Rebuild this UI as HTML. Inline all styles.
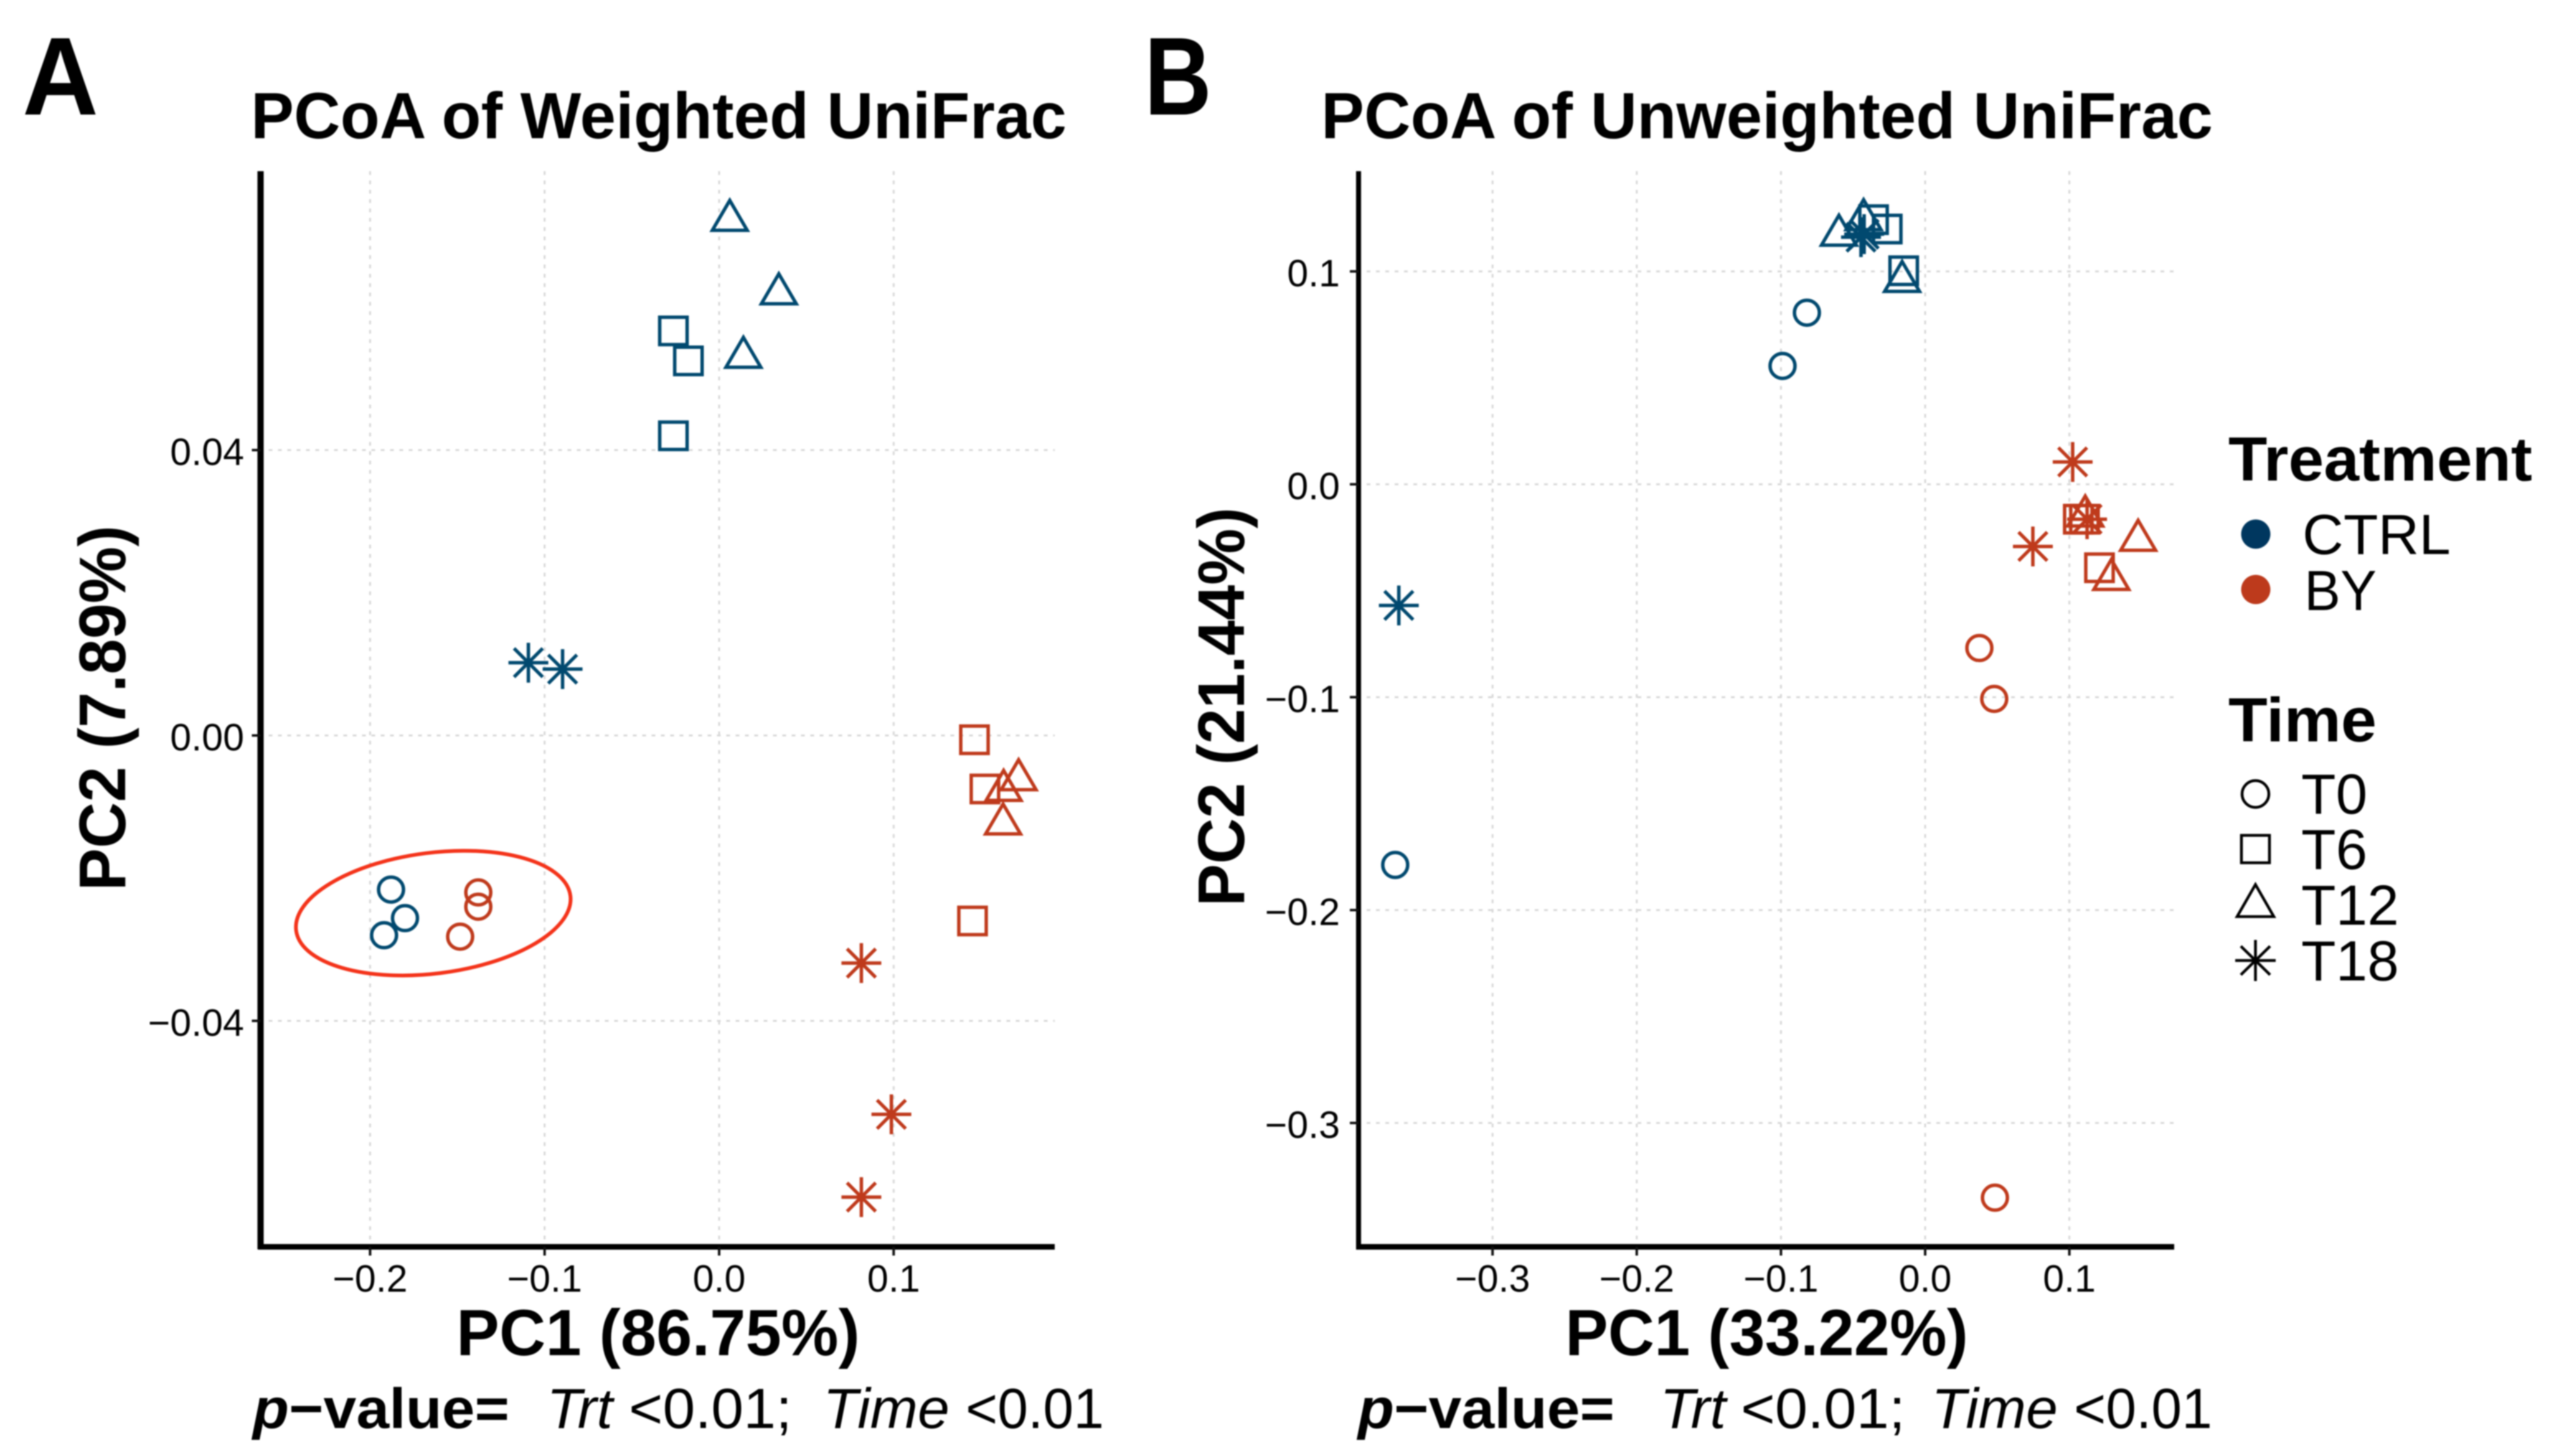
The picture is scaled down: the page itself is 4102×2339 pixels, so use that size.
<!DOCTYPE html>
<html lang="en">
<head>
<meta charset="utf-8">
<title>PCoA of Weighted and Unweighted UniFrac</title>
<style>
html,body{margin:0;padding:0;background:#fff;}
svg{display:block;filter:blur(1px);}
text{font-family:"Liberation Sans",Arial,sans-serif;fill:#000;}
.b{font-weight:700;}
</style>
</head>
<body>
<svg id="figure" xmlns="http://www.w3.org/2000/svg" width="4102" height="2339" viewBox="0 0 4102 2339">
  <rect x="0" y="0" width="4102" height="2339" fill="#fff"/>

  <text class="b" x="36" y="184" font-size="178" textLength="122" lengthAdjust="spacingAndGlyphs">A</text>
  <text class="b" x="1838" y="184" font-size="178" textLength="108" lengthAdjust="spacingAndGlyphs">B</text>

  <g id="panelA"></g>
  <g id="panelB"></g>

  <text class="b" x="403" y="222" font-size="105" textLength="1310" lengthAdjust="spacingAndGlyphs">PCoA of Weighted UniFrac</text>
  <text class="b" x="2122" y="222" font-size="105" textLength="1432" lengthAdjust="spacingAndGlyphs">PCoA of Unweighted UniFrac</text>

  <text class="b" x="733" y="2177" font-size="105" textLength="648" lengthAdjust="spacingAndGlyphs">PC1 (86.75%)</text>
  <text class="b" x="2514" y="2177" font-size="105" textLength="647" lengthAdjust="spacingAndGlyphs">PC1 (33.22%)</text>

  <text class="b" transform="translate(201,1431) rotate(-90)" font-size="106" textLength="587" lengthAdjust="spacingAndGlyphs">PC2 (7.89%)</text>
  <text class="b" transform="translate(1998,1456) rotate(-90)" font-size="106" textLength="641" lengthAdjust="spacingAndGlyphs">PC2 (21.44%)</text>

  <g font-size="91">
    <text class="b" x="406" y="2294" textLength="412" lengthAdjust="spacingAndGlyphs"><tspan font-style="italic">p</tspan>−value=</text>
    <text font-style="italic" x="878" y="2294" textLength="106" lengthAdjust="spacingAndGlyphs">Trt</text>
    <text x="1010" y="2294" textLength="262" lengthAdjust="spacingAndGlyphs">&lt;0.01;</text>
    <text font-style="italic" x="1322" y="2294" textLength="203" lengthAdjust="spacingAndGlyphs">Time</text>
    <text x="1551" y="2294" textLength="222" lengthAdjust="spacingAndGlyphs">&lt;0.01</text>
  </g>
  <g font-size="91">
    <text class="b" x="2181" y="2294" textLength="412" lengthAdjust="spacingAndGlyphs"><tspan font-style="italic">p</tspan>−value=</text>
    <text font-style="italic" x="2666" y="2294" textLength="106" lengthAdjust="spacingAndGlyphs">Trt</text>
    <text x="2796" y="2294" textLength="264" lengthAdjust="spacingAndGlyphs">&lt;0.01;</text>
    <text font-style="italic" x="3102" y="2294" textLength="203" lengthAdjust="spacingAndGlyphs">Time</text>
    <text x="3331" y="2294" textLength="222" lengthAdjust="spacingAndGlyphs">&lt;0.01</text>
  </g>

  <g>
    <text class="b" x="3579" y="772" font-size="100" textLength="488" lengthAdjust="spacingAndGlyphs">Treatment</text>
    <circle cx="3623" cy="858" r="23.5" fill="#00375f"/>
    <text x="3698" y="890" font-size="91" textLength="238" lengthAdjust="spacingAndGlyphs">CTRL</text>
    <circle cx="3623" cy="947" r="23.5" fill="#bd3a1c"/>
    <text x="3701" y="980" font-size="91" textLength="116" lengthAdjust="spacingAndGlyphs">BY</text>

    <text class="b" x="3579" y="1191" font-size="100" textLength="238" lengthAdjust="spacingAndGlyphs">Time</text>
    <g fill="none" stroke="#000" stroke-width="4.5">
      <circle cx="3622.5" cy="1275.5" r="21.5"/>
      <rect x="3600" y="1342" width="45" height="44"/>
      <polygon points="3622.5,1421 3593,1472.5 3652,1472.5"/>
      <path d="M3622.5 1510V1576M3590 1543H3655M3599 1520L3646 1566M3599 1566L3646 1520"/>
    </g>
    <text x="3696" y="1307" font-size="91">T0</text>
    <text x="3696" y="1396" font-size="91">T6</text>
    <text x="3696" y="1485.5" font-size="91">T12</text>
    <text x="3696" y="1575" font-size="91">T18</text>
  </g>
</svg>

<script>
// ---- Panel A (Weighted UniFrac) data ----
const aXTicks = [-0.2, -0.1, 0.0, 0.1];
const aXTickLabels = ["−0.2", "−0.1", "0.0", "0.1"];
const aYTicks = [0.04, 0.00, -0.04];
const aYTickLabels = ["0.04", "0.00", "−0.04"];

const aCtrlT0X = [-0.188, -0.180, -0.192];
const aCtrlT0Y = [-0.0216, -0.0256, -0.0280];
const aCtrlT6X = [-0.0262, -0.0176, -0.0262];
const aCtrlT6Y = [0.0567, 0.0525, 0.0420];
const aCtrlT12X = [0.0061, 0.0342, 0.0139];
const aCtrlT12Y = [0.0722, 0.0619, 0.0530];
const aCtrlT18X = [-0.1093, -0.0897];
const aCtrlT18Y = [0.0102, 0.0093];

const aByT0X = [-0.138, -0.138, -0.1484];
const aByT0Y = [-0.0220, -0.0240, -0.0282];
const aByT6X = [0.1463, 0.1523, 0.1452];
const aByT6Y = [-0.0006, -0.0075, -0.0260];
const aByT12X = [0.1716, 0.1630, 0.1627];
const aByT12Y = [-0.0062, -0.0077, -0.0124];
const aByT18X = [0.0815, 0.0987, 0.0815];
const aByT18Y = [-0.0319, -0.0531, -0.0647];

const aEllipseCenterX = [-0.1638];
const aEllipseCenterY = [-0.0249];

// ---- Panel B (Unweighted UniFrac) data ----
const bXTicks = [-0.3, -0.2, -0.1, 0.0, 0.1];
const bXTickLabels = ["−0.3", "−0.2", "−0.1", "0.0", "0.1"];
const bYTicks = [0.1, 0.0, -0.1, -0.2, -0.3];
const bYTickLabels = ["0.1", "0.0", "−0.1", "−0.2", "−0.3"];

const bCtrlT0X = [-0.0820, -0.0989, -0.3675];
const bCtrlT0Y = [0.0806, 0.0556, -0.1788];
const bCtrlT6X = [-0.0149, -0.0358, -0.0263];
const bCtrlT6Y = [0.1003, 0.1243, 0.1199];
const bCtrlT12X = [-0.0598, -0.0427, -0.0160];
const bCtrlT12Y = [0.1170, 0.1243, 0.0953];
const bCtrlT18X = [-0.0445, -0.0423, -0.3650];
const bCtrlT18Y = [0.1161, 0.1175, -0.0569];

const bByT0X = [0.0376, 0.0479, 0.0484];
const bByT0Y = [-0.0769, -0.1008, -0.3351];
const bByT6X = [0.1062, 0.1105, 0.1209];
const bByT6Y = [-0.0164, -0.0164, -0.0392];
const bByT12X = [0.111, 0.1477, 0.1291];
const bByT12Y = [-0.0149, -0.0263, -0.0447];
const bByT18X = [0.1023, 0.0747, 0.1123];
const bByT18Y = [0.0105, -0.0292, -0.0164];

// ---- Axis functions ----
function xA(v) { return 1155 + 2803 * v; }
function yA(v) { return 1181.5 - 11462 * v; }
function xB(v) { return 3092 + 2316 * v; }
function yB(v) { return 778 - 3420 * v; }

const CTRL_COLOR = "#01496f";
const BY_COLOR = "#bf3a1c";
const NS = "http://www.w3.org/2000/svg";

function mk(parent, tag, attrs) {
  const el = document.createElementNS(NS, tag);
  for (const k in attrs) el.setAttribute(k, attrs[k]);
  parent.appendChild(el);
  return el;
}

function drawMarker(parent, shape, cx, cy, color, name) {
  let el;
  const style = { fill: "none", stroke: color, "stroke-width": 5.5 };
  if (shape === "circle") {
    el = mk(parent, "circle", Object.assign({ cx: cx, cy: cy, r: 20 }, style));
  } else if (shape === "square") {
    el = mk(parent, "rect", Object.assign({ x: cx - 22, y: cy - 22, width: 44, height: 44 }, style));
  } else if (shape === "triangle") {
    const pts = (cx) + "," + (cy - 32) + " " + (cx - 28) + "," + (cy + 16) + " " + (cx + 28) + "," + (cy + 16);
    el = mk(parent, "polygon", Object.assign({ points: pts }, style));
  } else {
    const d = "M" + cx + " " + (cy - 32) + "V" + (cy + 32) +
      "M" + (cx - 32) + " " + cy + "H" + (cx + 32) +
      "M" + (cx - 23) + " " + (cy - 23) + "L" + (cx + 23) + " " + (cy + 23) +
      "M" + (cx - 23) + " " + (cy + 23) + "L" + (cx + 23) + " " + (cy - 23);
    el = mk(parent, "path", Object.assign({ d: d }, style));
  }
  
  
  return el;
}

function drawSeries(parent, shape, xs, ys, fx, fy, color, name) {
  const g = mk(parent, "g", {});
  
  
  for (let i = 0; i < xs.length; i++) {
    drawMarker(g, shape, fx(xs[i]), fy(ys[i]), color, name + "-point");
  }
}

function drawAxes(parent, p, xTicks, xLabels, yTicks, yLabels, fx, fy) {
  const grid = mk(parent, "g", { stroke: "#d8d8d8", "stroke-width": 3, "stroke-dasharray": "6 9", fill: "none" });
  
  
  xTicks.forEach(function (t) {
    const l = mk(grid, "line", { x1: fx(t), x2: fx(t), y1: p.top, y2: p.bottom });
    
    
  });
  yTicks.forEach(function (t) {
    const l = mk(grid, "line", { x1: p.left + 13, x2: p.right, y1: fy(t), y2: fy(t) });
    
    
  });

  const axY = mk(parent, "line", { x1: p.left, x2: p.left, y1: p.top, y2: p.bottom + 4, stroke: "#000", "stroke-width": p.axisWidth });
  
  
  const axX = mk(parent, "line", { x1: p.left - 4, x2: p.right, y1: p.bottom, y2: p.bottom, stroke: "#000", "stroke-width": 9 });
  
  

  xTicks.forEach(function (t, i) {
    const tick = mk(parent, "line", { x1: fx(t), x2: fx(t), y1: p.bottom, y2: p.bottom + 14, stroke: "#111", "stroke-width": 4 });
    
    
    const lab = mk(parent, "text", { x: fx(t), y: 2075, "font-size": 61, "text-anchor": "middle" });
    
    
    lab.textContent = xLabels[i];
  });
  yTicks.forEach(function (t, i) {
    const tick = mk(parent, "line", { x1: p.left - 14, x2: p.left, y1: fy(t), y2: fy(t), stroke: "#111", "stroke-width": 4 });
    
    
    const lab = mk(parent, "text", { x: p.labelX, y: fy(t) + 24, "font-size": 61, "text-anchor": "end" });
    
    
    lab.textContent = yLabels[i];
  });
}

// ---- Panel A ----
const gA = document.getElementById("panelA");
drawAxes(gA, { id: "panel-a", left: 418.5, right: 1694, top: 275, bottom: 2003, labelX: 392, axisWidth: 10 }, aXTicks, aXTickLabels, aYTicks, aYTickLabels, xA, yA);
drawSeries(gA, "circle", aCtrlT0X, aCtrlT0Y, xA, yA, CTRL_COLOR, "a-ctrl-t0");
drawSeries(gA, "square", aCtrlT6X, aCtrlT6Y, xA, yA, CTRL_COLOR, "a-ctrl-t6");
drawSeries(gA, "triangle", aCtrlT12X, aCtrlT12Y, xA, yA, CTRL_COLOR, "a-ctrl-t12");
drawSeries(gA, "star", aCtrlT18X, aCtrlT18Y, xA, yA, CTRL_COLOR, "a-ctrl-t18");
drawSeries(gA, "circle", aByT0X, aByT0Y, xA, yA, BY_COLOR, "a-by-t0");
drawSeries(gA, "square", aByT6X, aByT6Y, xA, yA, BY_COLOR, "a-by-t6");
drawSeries(gA, "triangle", aByT12X, aByT12Y, xA, yA, BY_COLOR, "a-by-t12");
drawSeries(gA, "star", aByT18X, aByT18Y, xA, yA, BY_COLOR, "a-by-t18");

const ringCx = xA(aEllipseCenterX[0]);
const ringCy = yA(aEllipseCenterY[0]);
const ring = mk(gA, "ellipse", {
  cx: ringCx, cy: ringCy, rx: 222, ry: 97,
  transform: "rotate(-7.2 " + ringCx + " " + ringCy + ")",
  fill: "none", stroke: "#f4331a", "stroke-width": 6
});



// ---- Panel B ----
const gB = document.getElementById("panelB");
drawAxes(gB, { id: "panel-b", left: 2182, right: 3492, top: 275, bottom: 2003, labelX: 2152, axisWidth: 8 }, bXTicks, bXTickLabels, bYTicks, bYTickLabels, xB, yB);
drawSeries(gB, "circle", bCtrlT0X, bCtrlT0Y, xB, yB, CTRL_COLOR, "b-ctrl-t0");
drawSeries(gB, "square", bCtrlT6X, bCtrlT6Y, xB, yB, CTRL_COLOR, "b-ctrl-t6");
drawSeries(gB, "triangle", bCtrlT12X, bCtrlT12Y, xB, yB, CTRL_COLOR, "b-ctrl-t12");
drawSeries(gB, "star", bCtrlT18X, bCtrlT18Y, xB, yB, CTRL_COLOR, "b-ctrl-t18");
drawSeries(gB, "circle", bByT0X, bByT0Y, xB, yB, BY_COLOR, "b-by-t0");
drawSeries(gB, "square", bByT6X, bByT6Y, xB, yB, BY_COLOR, "b-by-t6");
drawSeries(gB, "triangle", bByT12X, bByT12Y, xB, yB, BY_COLOR, "b-by-t12");
drawSeries(gB, "star", bByT18X, bByT18Y, xB, yB, BY_COLOR, "b-by-t18");
</script>
</body>
</html>
